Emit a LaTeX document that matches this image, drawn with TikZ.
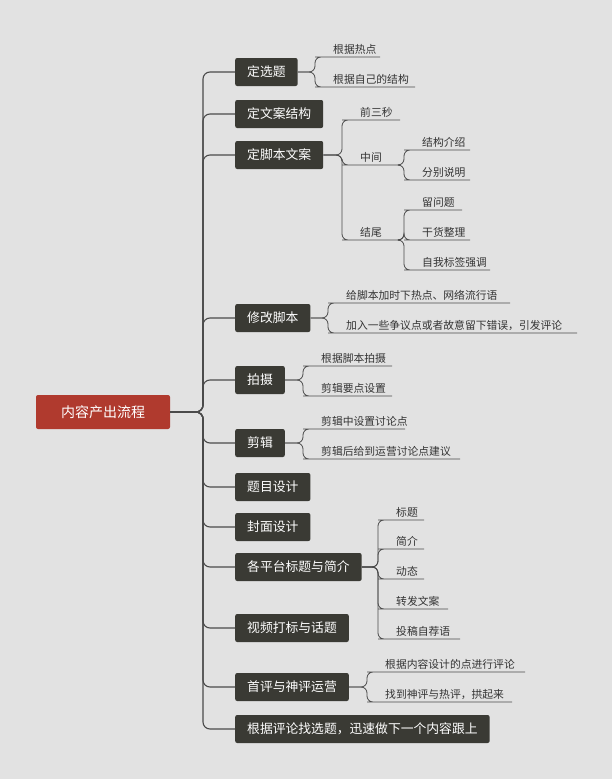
\documentclass[tikz,border=0pt]{standalone}
\usepackage{fontspec}
\setmainfont{Noto Sans CJK SC}
\usetikzlibrary{positioning}
\definecolor{bg}{HTML}{E2E2E2}
\definecolor{boxc}{HTML}{3A3A34}
\definecolor{rootc}{HTML}{B03A2E}
\definecolor{linec}{HTML}{4A4A4A}
\tikzset{
  topic/.style={fill=boxc,text=white,rounded corners=2pt,inner xsep=12pt,minimum height=28pt,font=\fontsize{12.8}{14}\selectfont,anchor=west},
  leaf/.style={text=black!80,font=\fontsize{10.8}{12}\selectfont,anchor=south west,inner sep=2pt},
  trunk/.style={draw=linec,line width=1.1pt,rounded corners=7pt},
  twig/.style={draw=linec,line width=0.8pt,rounded corners=6pt},
}
% \Leaf{from}{branch x}{line y}{line end}{text}
\newcommand\Leaf[5]{\draw[twig] (#1) -- (#2,\yfrom) |- (#2+6,#3) -- (#4,#3);
  \node[leaf] at (#2+16,#3) {#5};}
\begin{document}
\begin{tikzpicture}[x=1pt,y=-1pt]
	\fill[bg] (0,0) rectangle (612,779);
	\node[fill=rootc,text=white,rounded corners=2pt,minimum width=134pt,minimum height=34pt,font=\fontsize{14}{16}\selectfont] (root) at (103,412) {内容产出流程};

	\node[topic] (xuanti) at (235,72) {定选题};
	\node[topic] (wenan) at (235,114) {定文案结构};
	\node[topic] (jiaoben) at (235,155) {定脚本文案};
	\node[topic] (xiugai) at (235,318) {修改脚本};
	\node[topic] (paishe) at (235,380) {拍摄};
	\node[topic] (jianji) at (235,443) {剪辑};
	\node[topic] (timu) at (235,487) {题目设计};
	\node[topic] (fengmian) at (235,527) {封面设计};
	\node[topic] (pingtai) at (235,567) {各平台标题与简介};
	\node[topic] (dabiao) at (235,628) {视频打标与话题};
	\node[topic] (shouping) at (235,687) {首评与神评运营};
	\node[topic] (xuanti2) at (235,729) {根据评论找选题，迅速做下一个内容跟上};

	\foreach \t in {xuanti,wenan,jiaoben,xiugai,paishe,jianji,timu,fengmian,pingtai,dabiao,shouping,xuanti2}
		\draw[trunk] (root.east) -- (203,412) |- (\t.west);

	\def\yfrom{72}
	\Leaf{xuanti.east}{315}{57}{380}{根据热点}
	\Leaf{xuanti.east}{315}{87}{415}{根据自己的结构}

	\def\yfrom{155}
	\Leaf{jiaoben.east}{342}{120}{400}{前三秒}
	\Leaf{jiaoben.east}{342}{165}{400}{中间}
	\Leaf{jiaoben.east}{342}{240}{400}{结尾}
	\coordinate (zhong) at (400,165);
	\def\yfrom{165}
	\Leaf{zhong}{404}{150}{470}{结构介绍}
	\Leaf{zhong}{404}{180}{470}{分别说明}
	\coordinate (wei) at (400,240);
	\def\yfrom{240}
	\Leaf{wei}{404}{210}{462}{留问题}
	\Leaf{wei}{404}{240}{470}{干货整理}
	\Leaf{wei}{404}{270}{490}{自我标签强调}

	\def\yfrom{318}
	\Leaf{xiugai.east}{328}{303}{510}{给脚本加时下热点、网络流行语}
	\Leaf{xiugai.east}{328}{333}{577}{加入一些争议点或者故意留下错误，引发评论}

	\def\yfrom{380}
	\Leaf{paishe.east}{303}{366}{392}{根据脚本拍摄}
	\Leaf{paishe.east}{303}{396}{392}{剪辑要点设置}

	\def\yfrom{443}
	\Leaf{jianji.east}{303}{429}{405}{剪辑中设置讨论点}
	\Leaf{jianji.east}{303}{459}{460}{剪辑后给到运营讨论点建议}

	\def\yfrom{567}
	\Leaf{pingtai.east}{378}{520}{424}{标题}
	\Leaf{pingtai.east}{378}{549}{424}{简介}
	\Leaf{pingtai.east}{378}{579}{424}{动态}
	\Leaf{pingtai.east}{378}{609}{448}{转发文案}
	\Leaf{pingtai.east}{378}{639}{460}{投稿自荐语}

	\def\yfrom{687}
	\Leaf{shouping.east}{367}{672}{525}{根据内容设计的点进行评论}
	\Leaf{shouping.east}{367}{702}{512}{找到神评与热评，拱起来}
\end{tikzpicture}
\end{document}
